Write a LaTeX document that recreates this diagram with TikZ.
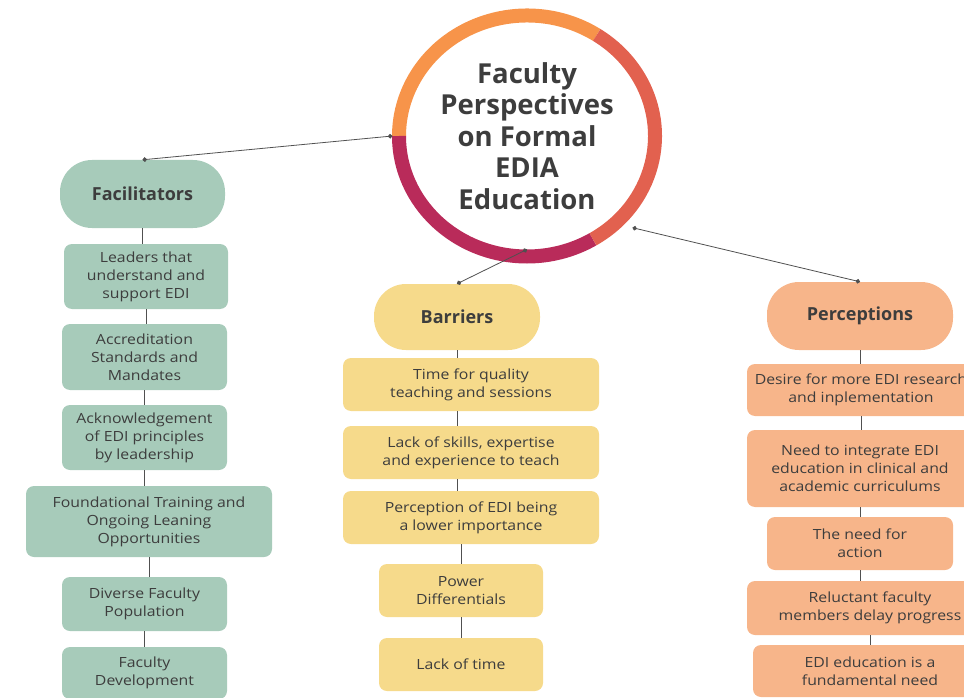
\documentclass[tikz,border=0pt]{standalone}
\usepackage{fontspec}
\setmainfont{Open Sans}
\newfontfamily\boxfont{Open Sans}[FakeStretch=1.13]
\usetikzlibrary{calc,arrows.meta,shapes.geometric}

\definecolor{ink}{HTML}{3D3D3D}
\definecolor{wire}{HTML}{505050}
\definecolor{facgreen}{HTML}{A7CBBA}
\definecolor{baryellow}{HTML}{F6DA8B}
\definecolor{perpeach}{HTML}{F7B58A}
\definecolor{ringorange}{HTML}{F7944A}
\definecolor{ringcoral}{HTML}{E2614F}
\definecolor{ringwine}{HTML}{B92B5A}

\tikzset{
  item/.style={rectangle, rounded corners=8pt, inner sep=0pt, align=center,
    text=ink, font=\boxfont\fontsize{14}{18}\selectfont},
  head/.style={item, rounded corners=32pt, font=\bfseries\fontsize{18}{22}\selectfont},
  fac/.style={item, fill=facgreen},
  bar/.style={item, fill=baryellow},
  per/.style={item, fill=perpeach},
  link/.style={draw=wire, line width=0.8pt},
  spoke/.style={link, {Circle[length=4.5pt]}-{Circle[length=4.5pt]}},
  ring/.style={line width=14pt},
}

\begin{document}
\begin{tikzpicture}[x=1pt,y=-1pt]
\useasboundingbox (0,0) rectangle (964,698);
\clip (0,0) rectangle (964,698);

% centre circle
\node(hub)[ellipse, minimum width=256pt, minimum height=241pt, inner sep=0pt,
  align=center, text=ink, font=\bfseries\fontsize{27.5}{31.5}\selectfont]
  at (527,136) {Faculty\\Perspectives\\on Formal\\EDIA\\Education};
\draw[ring, ringorange] (hub.center) ++(57:128pt and 120.5pt)
  arc[start angle=57, end angle=180, x radius=128pt, y radius=120.5pt];
\draw[ring, ringwine] (hub.center) ++(180:128pt and 120.5pt)
  arc[start angle=180, end angle=301, x radius=128pt, y radius=120.5pt];
\draw[ring, ringcoral] (hub.center) ++(-59:128pt and 120.5pt)
  arc[start angle=-59, end angle=57, x radius=128pt, y radius=120.5pt];

% facilitators
\node(fachead)[head, fill=facgreen, minimum width=165pt, minimum height=68pt] at (142.5,194) {Facilitators};
\node(f1)[fac, minimum width=164pt, minimum height=65pt] at (146,276.5) {Leaders that\\understand and\\support EDI};
\node(f2)[fac, minimum width=165pt, minimum height=66pt] at (144.5,357) {Accreditation\\Standards and\\Mandates};
\node(f3)[fac, minimum width=165pt, minimum height=65pt] at (144.5,437.5) {Acknowledgement\\of EDI principles\\by leadership};
\node(f4)[fac, minimum width=246pt, minimum height=71pt] at (149,521.5) {Foundational Training and\\Ongoing Leaning\\Opportunities};
\node(f5)[fac, minimum width=165pt, minimum height=54pt] at (144.5,604) {Diverse Faculty\\Population};
\node(f6)[fac, minimum width=165pt, minimum height=52pt] at (144.5,673) {Faculty\\Development};

% barriers
\node(barhead)[head, fill=baryellow, minimum width=166pt, minimum height=66pt] at (457,317) {Barriers};
\node(b1)[bar, minimum width=256pt, minimum height=53pt] at (471,384.5) {Time for quality\\teaching and sessions};
\node(b2)[bar, minimum width=256pt, minimum height=53pt] at (471,452.5) {Lack of skills, expertise\\and experience to teach};
\node(b3)[bar, minimum width=256pt, minimum height=53pt] at (471,517.5) {Perception of EDI being\\a lower importance};
\node(b4)[bar, minimum width=164pt, minimum height=53pt] at (461,590.5) {Power\\Differentials};
\node(b5)[bar, minimum width=164pt, minimum height=53pt] at (461,664.5) {Lack of time};

% perceptions
\node(perhead)[head, fill=perpeach, minimum width=186pt, minimum height=68pt] at (860,316) {Perceptions};
\node(p1)[per, minimum width=228pt, minimum height=52pt] at (861,390) {Desire for more EDI research\\and inplementation};
\node(p2)[per, minimum width=226pt, minimum height=77pt] at (860,468.5) {Need to integrate EDI\\education in clinical and\\academic curriculums};
\node(p3)[per, minimum width=186pt, minimum height=53pt] at (860,543.5) {The need for\\action};
\node(p4)[per, minimum width=246pt, minimum height=54pt] at (870,608) {Reluctant faculty\\members delay progress};
\node(p5)[per, minimum width=234pt, minimum height=52pt] at (870,671) {EDI education is a\\fundamental need};

% spokes from the circle
\draw[spoke] ($(hub.center)!1.05!(hub.180)$) -- (fachead.north);
\draw[spoke] ($(hub.center)!0.94!(hub.-90)$) -- (barhead.north);
\draw[spoke] ($(hub.center)!1.12!(hub.-41)$) -- (perhead.north);

% column links
\draw[link] (fachead.south) -- (fachead.south |- f1.north);
\draw[link] (f1.south) -- (f1.south |- f2.north);
\draw[link] (f2.south) -- (f2.south |- f3.north);
\draw[link] (f3.south) -- (f3.south |- f4.north);
\draw[link] (f4.south) -- (f4.south |- f5.north);
\draw[link] (f5.south) -- (f5.south |- f6.north);

\draw[link] (barhead.south) -- (barhead.south |- b1.north);
\draw[link] (b1.south -| barhead.south) -- (b2.north -| barhead.south);
\draw[link] (b2.south -| barhead.south) -- (b3.north -| barhead.south);
\draw[link] (b3.south -| b4.north) -- (b4.north);
\draw[link] (b4.south) -- (b5.north);

\draw[link] (perhead.south) -- (perhead.south |- p1.north);
\draw[link] (p1.south) -- (p1.south |- p2.north);
\draw[link] (p2.south) -- (p2.south |- p3.north);
\draw[link] (p3.south) -- (p3.south |- p4.north);
\draw[link] (p4.south) -- (p4.south |- p5.north);
\end{tikzpicture}
\end{document}
